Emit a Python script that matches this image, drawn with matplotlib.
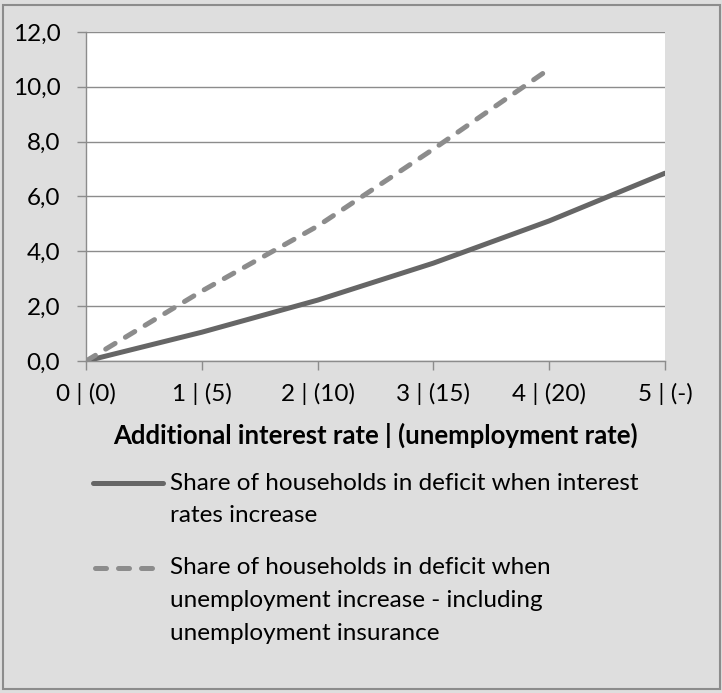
import matplotlib
matplotlib.use("Agg")
import matplotlib.pyplot as plt
import numpy as np
from matplotlib.lines import Line2D
from matplotlib.patches import Rectangle
from matplotlib.ticker import FuncFormatter

# data
categories = ["0 | (0)", "1 | (5)", "2 | (10)", "3 | (15)", "4 | (20)", "5 | (-)"]
interest_share = [0.0, 1.05, 2.22, 3.57, 5.11, 6.85]
unemployment_share = [0.0, 2.55, 4.92, 7.73, 10.65, np.nan]

label_interest = "Share of households in deficit when interest\nrates increase"
label_unemp = ("Share of households in deficit when\n"
               "unemployment increase - including\nunemployment insurance")
x_title = "Additional interest rate | (unemployment rate)"

plt.rcParams['font.family'] = ['Lato', 'DejaVu Sans']
fs = 17.5
bg = "#dedede"
grid_col = "#8c8c8c"
solid_col = "#666666"
dash_col = "#8c8c8c"
lw = 3.6
dash = (2.2, 2.4)

fig = plt.figure(figsize=(7.22, 6.93), dpi=100)
fig.patch.set_facecolor(bg)
# outer chart border
fig.patches.append(Rectangle((3.5 / 722, 4 / 693), 716.5 / 722, 684 / 693,
                             transform=fig.transFigure, fill=False,
                             edgecolor="#8c8c8c", linewidth=1.5))

ax = fig.add_axes([86 / 722, 1 - 361 / 693, 579 / 722, 329 / 693])
ax.set_facecolor("white")

x = np.arange(len(categories))
ax.plot(x, interest_share, color=solid_col, lw=lw, solid_capstyle='round', zorder=3)
ax.plot(x, unemployment_share, color=dash_col, lw=lw, dashes=dash,
        dash_capstyle='round', zorder=3)

ax.set_xlim(0, 5)
ax.set_ylim(0, 12)
ax.set_yticks(np.arange(0, 13, 2))
ax.yaxis.set_major_formatter(FuncFormatter(lambda v, p: f"{v:.1f}".replace(".", ",")))
ax.set_xticks(x)
ax.set_xticklabels(categories)
ax.grid(axis='y', color=grid_col, lw=1.0)
ax.set_axisbelow(True)

for s in ['top', 'right']:
    ax.spines[s].set_visible(False)
for s in ['left', 'bottom']:
    ax.spines[s].set_color(grid_col)
    ax.spines[s].set_linewidth(1.0)
ax.tick_params(axis='both', colors=grid_col, labelcolor="black", labelsize=fs,
               length=6.5, width=1.0)
ax.tick_params(axis='y', pad=12)
ax.tick_params(axis='x', pad=9)
ax.set_xlabel(x_title, fontsize=18.5, fontweight='bold', labelpad=13)

# legend drawn below the axis title
def fy(py):
    return 1 - py / 693

fig.lines.append(Line2D([93 / 722, 163 / 722], [fy(483), fy(483)], transform=fig.transFigure,
                        color=solid_col, lw=lw, solid_capstyle='round'))
fig.lines.append(Line2D([94.5 / 722, 152 / 722], [fy(568), fy(568)], transform=fig.transFigure,
                        color=dash_col, lw=lw, dashes=dash, dash_capstyle='round'))
line_step = 32.5
for label, y0 in [(label_interest, 483), (label_unemp, 568)]:
    for i, part in enumerate(label.split("\n")):
        fig.text(170 / 722, fy(y0 + i * line_step), part, fontsize=fs,
                 va='center', ha='left')

fig.savefig("out.png", dpi=100, facecolor=bg)
